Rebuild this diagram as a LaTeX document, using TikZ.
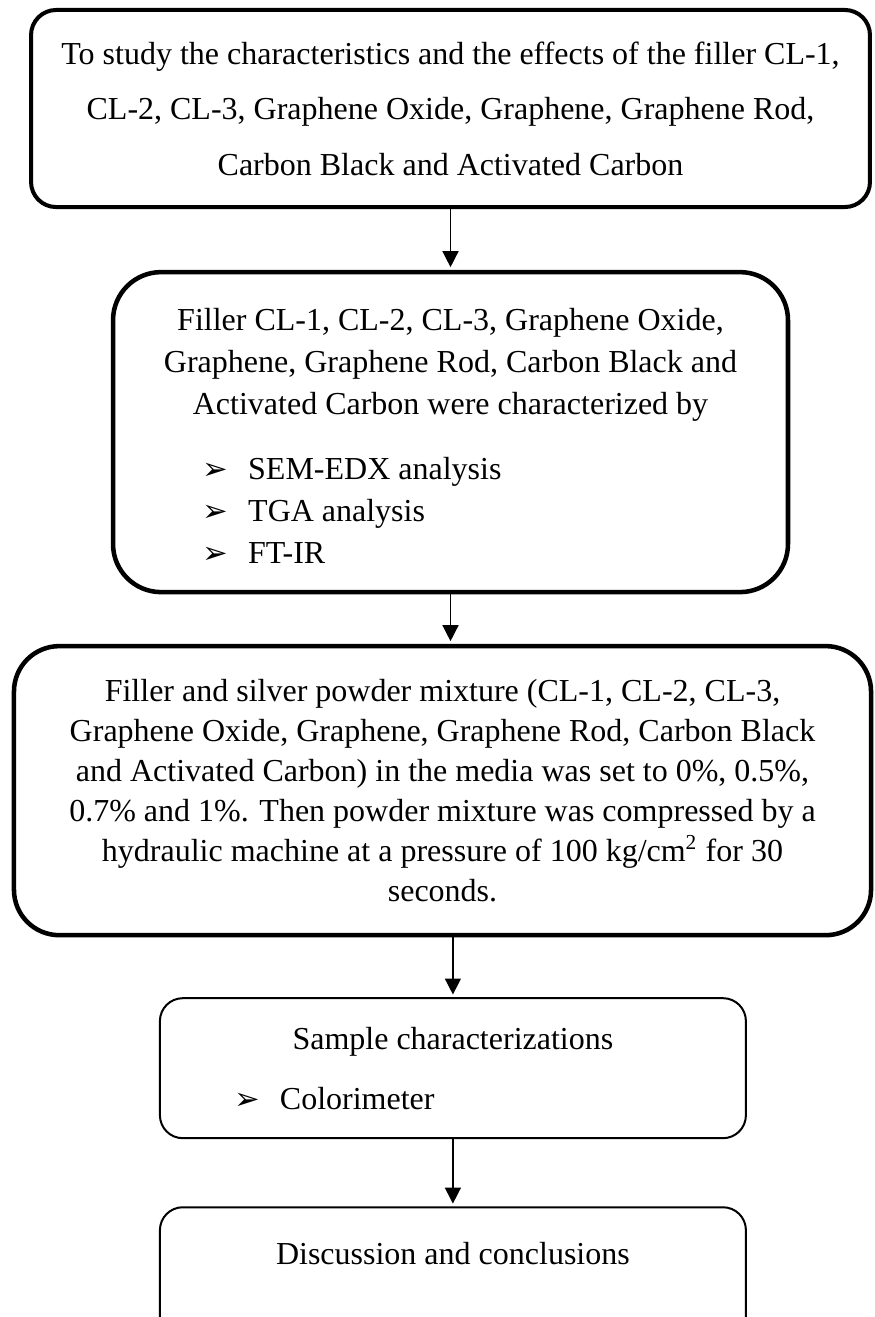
\documentclass[tikz,border=0pt]{standalone}
\usepackage{fontspec}
\setmainfont{Liberation Serif}
\newfontfamily\dingfont{DejaVu Sans}
\usetikzlibrary{arrows.meta, positioning}
\newcommand{\pointer}{{\dingfont\fontsize{11.5}{12}\selectfont ➢}}
\newcommand{\listrow}[2]{\makebox[#1][l]{\pointer\hspace{7.5pt}#2}}

\begin{document}
\begin{tikzpicture}[
  node distance=20pt,
  box/.style={rectangle, draw=black, line width=1.7pt, align=center, font=\fontsize{12}{15}\selectfont},
  lightbox/.style={rectangle, draw=black, line width=0.75pt, rounded corners=8.6pt, align=center, minimum width=219.75pt, minimum height=52.5pt, font=\fontsize{12}{22.5}\selectfont},
  arrow/.style={-{Triangle[length=6pt, width=6pt]}, line width=0.55pt, shorten >=1pt}
]
  \useasboundingbox (0,0) rectangle (327.75pt,-493.875pt);

  \node[box, line width=1.5pt, rounded corners=9.4pt, minimum width=314.6pt, minimum height=73.9pt, font=\fontsize{12}{20.8}\selectfont] (aim) at (168.94pt,-40.69pt) {To study the characteristics and the effects of the filler CL-1,\\CL-2, CL-3, Graphene Oxide, Graphene, Graphene Rod,\\Carbon Black and Activated Carbon};
  \node[box, rounded corners=18pt, minimum width=253.1pt, minimum height=120pt, font=\fontsize{12}{15.75}\selectfont, below=22.8pt of aim] (filler) {\rule{0pt}{11pt}Filler CL-1, CL-2, CL-3, Graphene Oxide,\\Graphene, Graphene Rod, Carbon Black and\\Activated Carbon were characterized by\\[8.6pt]\listrow{186pt}{SEM-EDX analysis}\\\listrow{186pt}{TGA analysis}\\\listrow{186pt}{FT-IR}};
  \node[box, rounded corners=17pt, minimum width=321.4pt, minimum height=108.4pt, below=18.55pt of filler, xshift=-3pt] (mixture) {Filler and silver powder mixture (CL-1, CL-2, CL-3,\\Graphene Oxide, Graphene, Graphene Rod, Carbon Black\\and Activated Carbon) in the media was set to 0\%, 0.5\%,\\0.7\% and 1\%. Then powder mixture was compressed by a\\hydraulic machine at a pressure of 100 kg/cm\textsuperscript{2} for 30\\seconds.};
  \node[lightbox, below=22.4pt of mixture, xshift=3.9pt] (sample) {Sample characterizations\\\listrow{164pt}{Colorimeter}};
  \node[lightbox, minimum height=61pt, font=\fontsize{12}{20.25}\selectfont, below=25.15pt of sample] (concl) {Discussion and conclusions\\\strut};

  \draw[arrow] (aim) -- (filler);
  \draw[arrow] (filler) -- (filler.south |- mixture.north);
  \draw[arrow] (sample.north |- mixture.south) -- (sample);
  \draw[arrow] (sample) -- (concl);
\end{tikzpicture}
\end{document}
